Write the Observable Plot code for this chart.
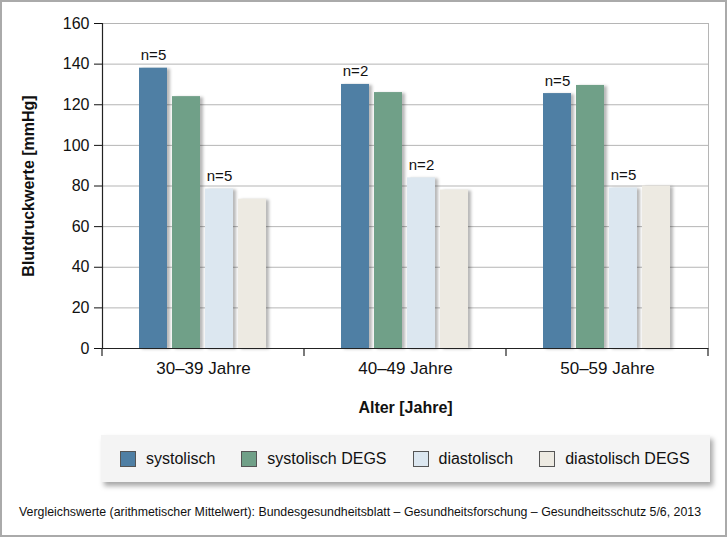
<!DOCTYPE html>
<html>
<head>
<meta charset="utf-8">
<script src="https://cdn.jsdelivr.net/npm/d3@7"></script>
<script src="https://cdn.jsdelivr.net/npm/@observablehq/plot@0.6"></script>
<style>
  html, body { margin: 0; padding: 0; background: #fff; }
  #wrap { position: relative; width: 727px; height: 537px; overflow: hidden; font-family: "Liberation Sans", Arial, sans-serif; color: #111; }
  #chart { position: absolute; left: 0; top: 0; }
  #legend { position: absolute; left: 101px; top: 435px; width: 609px; height: 47px; background: #f4f4f4;
            box-shadow: 3px 4px 5px rgba(0,0,0,0.35); display: flex; align-items: center; box-sizing: border-box; padding-left: 19px; font-size: 16px; white-space: nowrap; }
  .item { display: flex; align-items: center; margin-right: 26px; flex: none; }
  .sw { width: 16px; height: 16px; border: 1px solid #555; margin-right: 10px; box-sizing: border-box; }
  #caption { position: absolute; left: 19px; top: 505px; font-size: 12.35px; white-space: nowrap; }
  #border { position: absolute; left: 0; top: 0; width: 727px; height: 537px; box-sizing: border-box; border: 2px solid #aaa; pointer-events: none; }
  #chart [aria-label="y-axis label"] text, #chart [aria-label="fx-axis label"] text { font-weight: bold; }
  #chart [aria-label="fx-axis tick label"] text { font-size: 17px; }
</style>
</head>
<body>
<div id="wrap">
  <div id="chart"></div>
  <div id="legend"></div>
  <div id="caption"></div>
  <div id="border"></div>
</div>
<script>
const groups = ["30–39 Jahre", "40–49 Jahre", "50–59 Jahre"];
const series = ["systolisch", "systolisch DEGS", "diastolisch", "diastolisch DEGS"];
const colors = ["#4f7fa4", "#70a088", "#dce7f0", "#edeae2"];
const systolisch = [138, 130, 125.5];
const systolischDEGS = [124, 126, 129.5];
const diastolisch = [78.5, 84, 79];
const diastolischDEGS = [73.5, 78, 80];
const nSystolisch = ["n=5", "n=2", "n=5"];
const nDiastolisch = ["n=5", "n=2", "n=5"];
const yTicks = [0, 20, 40, 60, 80, 100, 120, 140, 160];
const yLabel = "Blutdruckwerte [mmHg]";
const xLabel = "Alter [Jahre]";
const captionText = "Vergleichswerte (arithmetischer Mittelwert): Bundesgesundheitsblatt – Gesundheitsforschung – Gesundheitsschutz 5/6, 2013";

const valuesBySeries = [systolisch, systolischDEGS, diastolisch, diastolischDEGS];
const labelsBySeries = [nSystolisch, null, nDiastolisch, null];
const data = [];
groups.forEach((g, gi) => {
  series.forEach((s, si) => {
    data.push({group: g, series: s, value: valuesBySeries[si][gi], label: labelsBySeries[si] ? labelsBySeries[si][gi] : ""});
  });
});

const chart = Plot.plot({
  width: 727,
  height: 425,
  marginLeft: 101,
  marginRight: 18,
  marginTop: 23,
  marginBottom: 77,
  style: {fontFamily: '"Liberation Sans", Arial, sans-serif', fontSize: "16px", color: "#111", background: "transparent"},
  fx: {domain: groups, padding: 0, label: xLabel, labelAnchor: "center", labelOffset: 64, labelArrow: "none", tickSize: 0, tickPadding: 13},
  x: {domain: series, paddingInner: 0.15, paddingOuter: 1.06, axis: null},
  y: {domain: [0, 160], ticks: yTicks, label: yLabel, labelAnchor: "center", labelOffset: 80, labelArrow: "none", tickSize: 8, tickPadding: 5},
  color: {domain: series, range: colors},
  marks: [
    Plot.gridY(yTicks.filter(d => d > 0), {stroke: "#b5b5b5", strokeOpacity: 1}),
    Plot.barY(data, {fx: "group", x: "series", y: "value", fill: "#000", fillOpacity: 0.28, dx: 3, dy: 1, imageFilter: "blur(1.5px)"}),
    Plot.barY(data, {fx: "group", x: "series", y: "value", fill: "series"}),
    Plot.text(data.filter(d => d.label), {fx: "group", x: "series", y: "value", text: "label", lineAnchor: "bottom", dy: -8, fontSize: 15, fill: "#111"}),
    Plot.ruleY([0], {stroke: "#222", strokeWidth: 1.2}),
    Plot.frame({facet: "super", anchor: "left", stroke: "#222", strokeWidth: 1.2}),
    Plot.frame({facet: "super", anchor: "right", stroke: "#b5b5b5"})
  ]
});
document.getElementById("chart").appendChild(chart);

// boundary ticks below the x axis, placed with the fx and y scales
const fxs = chart.scale("fx");
const ys = chart.scale("y");
const y0 = ys.apply(0);
const svg = d3.select(chart.tagName.toLowerCase() === "svg" ? chart : chart.querySelector("svg"));
const edges = groups.map(g => fxs.apply(g)).concat([fxs.apply(groups[groups.length - 1]) + fxs.bandwidth]);
svg.append("g").selectAll("line").data(edges).join("line")
  .attr("x1", d => d).attr("x2", d => d)
  .attr("y1", y0).attr("y2", y0 + 8)
  .attr("stroke", "#222").attr("stroke-width", 1.2);

// legend
const legend = d3.select("#legend");
series.forEach((s, i) => {
  const item = legend.append("div").attr("class", "item");
  item.append("div").attr("class", "sw").style("background", colors[i]);
  item.append("span").text(s);
});
document.getElementById("caption").textContent = captionText;
</script>
</body>
</html>
